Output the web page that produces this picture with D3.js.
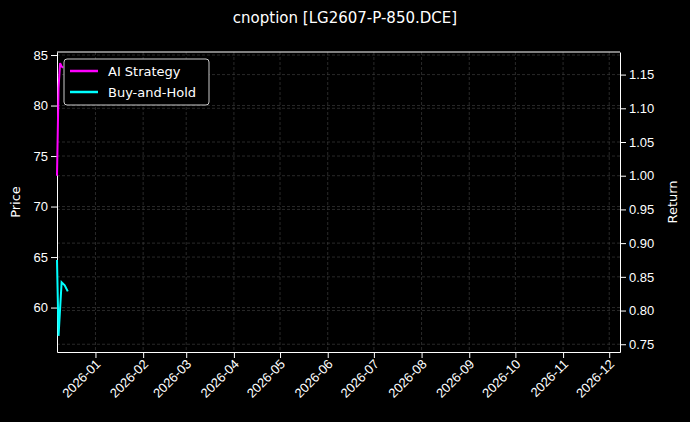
<!DOCTYPE html>
<html><head><meta charset="utf-8">
<script src="https://cdn.jsdelivr.net/npm/d3@7"></script>
<style>body{margin:0;background:#000}svg{font-family:"DejaVu Sans",sans-serif}</style>
</head><body><div id="chart"></div>
<script>
const width = 690, height = 422;
const margin = {top: 52, right: 70, bottom: 70, left: 57};

const priceDates = ["2025-12-07", "2025-12-08", "2025-12-10", "2025-12-12", "2025-12-14"];
const priceValues = [64.7, 57.2, 62.5, 62.2, 61.6];
const aiDates = ["2025-12-07", "2025-12-08", "2025-12-09", "2025-12-10", "2025-12-11"];
const aiReturns = [1.0, 1.13, 1.167, 1.162, 1.16];
const monthTicks = ["2026-01","2026-02","2026-03","2026-04","2026-05","2026-06","2026-07","2026-08","2026-09","2026-10","2026-11","2026-12"];
const priceTicks = [60, 65, 70, 75, 80, 85];
const returnTicks = [0.75, 0.80, 0.85, 0.90, 0.95, 1.00, 1.05, 1.10, 1.15];

const parse = d3.utcParse("%Y-%m-%d");
const parseM = d3.utcParse("%Y-%m");

const svg = d3.select("#chart").append("svg").attr("width", width).attr("height", height)
  .style("background", "#000");

const x = d3.scaleUtc().domain([parse("2025-12-07"), parse("2026-12-08")]).range([margin.left, width - margin.right]);
const yP = d3.scaleLinear().domain([55.6, 85.3]).range([height - margin.bottom, margin.top]);
const yR = d3.scaleLinear().domain([0.7385, 1.1835]).range([height - margin.bottom, margin.top]);

// grid
const grid = svg.append("g").attr("stroke", "#444").attr("stroke-dasharray", "3,2").attr("stroke-width", 0.6);
monthTicks.forEach(m => grid.append("line").attr("x1", x(parseM(m))).attr("x2", x(parseM(m)))
  .attr("y1", margin.top).attr("y2", height - margin.bottom));
priceTicks.forEach(v => grid.append("line").attr("x1", margin.left).attr("x2", width - margin.right)
  .attr("y1", yP(v)).attr("y2", yP(v)));
returnTicks.forEach(v => grid.append("line").attr("x1", margin.left).attr("x2", width - margin.right)
  .attr("y1", yR(v)).attr("y2", yR(v)));

const style = g => {
  g.selectAll("path,line").attr("stroke", "#fff");
  g.selectAll("text").attr("fill", "#fff").attr("font-size", 13);
};

svg.append("g").attr("transform", `translate(0,${height - margin.bottom})`)
  .call(d3.axisBottom(x).tickValues(monthTicks.map(parseM)).tickFormat(d3.utcFormat("%Y-%m")).tickSizeOuter(0))
  .call(style)
  .selectAll("text").attr("text-anchor", "end").attr("dx", "-0.4em").attr("dy", "0.3em")
  .attr("transform", "rotate(-45)");

svg.append("g").attr("transform", `translate(${margin.left},0)`)
  .call(d3.axisLeft(yP).tickValues(priceTicks).tickSizeOuter(0)).call(style);
svg.append("g").attr("transform", `translate(${width - margin.right},0)`)
  .call(d3.axisRight(yR).tickValues(returnTicks).tickFormat(d3.format(".2f")).tickSizeOuter(0)).call(style);
svg.append("line").attr("x1", margin.left).attr("x2", width - margin.right)
  .attr("y1", margin.top).attr("y2", margin.top).attr("stroke", "#fff");

// lines
svg.append("path").datum(priceDates.map((d, i) => [parse(d), priceValues[i]]))
  .attr("fill", "none").attr("stroke", "#00ffff").attr("stroke-width", 2)
  .attr("d", d3.line().x(d => x(d[0])).y(d => yP(d[1])));
svg.append("path").datum(aiDates.map((d, i) => [parse(d), aiReturns[i]]))
  .attr("fill", "none").attr("stroke", "#ff00ff").attr("stroke-width", 2)
  .attr("d", d3.line().x(d => x(d[0])).y(d => yR(d[1])));

// labels
svg.append("text").attr("x", 345).attr("y", 23).attr("text-anchor", "middle")
  .attr("fill", "#fff").attr("font-size", 15).text("cnoption [LG2607-P-850.DCE]");
svg.append("text").attr("transform", `translate(20,${(margin.top + height - margin.bottom) / 2}) rotate(-90)`)
  .attr("text-anchor", "middle").attr("fill", "#fff").attr("font-size", 13).text("Price");
svg.append("text").attr("transform", `translate(677,${(margin.top + height - margin.bottom) / 2}) rotate(-90)`)
  .attr("text-anchor", "middle").attr("fill", "#fff").attr("font-size", 13).text("Return");

// legend
const lg = svg.append("g").attr("transform", "translate(64,59)");
lg.append("rect").attr("width", 145).attr("height", 46).attr("rx", 3)
  .attr("fill", "#000").attr("stroke", "#ccc");
[["AI Strategy", "#ff00ff"], ["Buy-and-Hold", "#00ffff"]].forEach(([t, c], i) => {
  lg.append("line").attr("x1", 6).attr("x2", 34).attr("y1", 12 + i * 21).attr("y2", 12 + i * 21)
    .attr("stroke", c).attr("stroke-width", 2.5);
  lg.append("text").attr("x", 44).attr("y", 16.5 + i * 21).attr("fill", "#fff")
    .attr("font-size", 13).text(t);
});
</script></body></html>
